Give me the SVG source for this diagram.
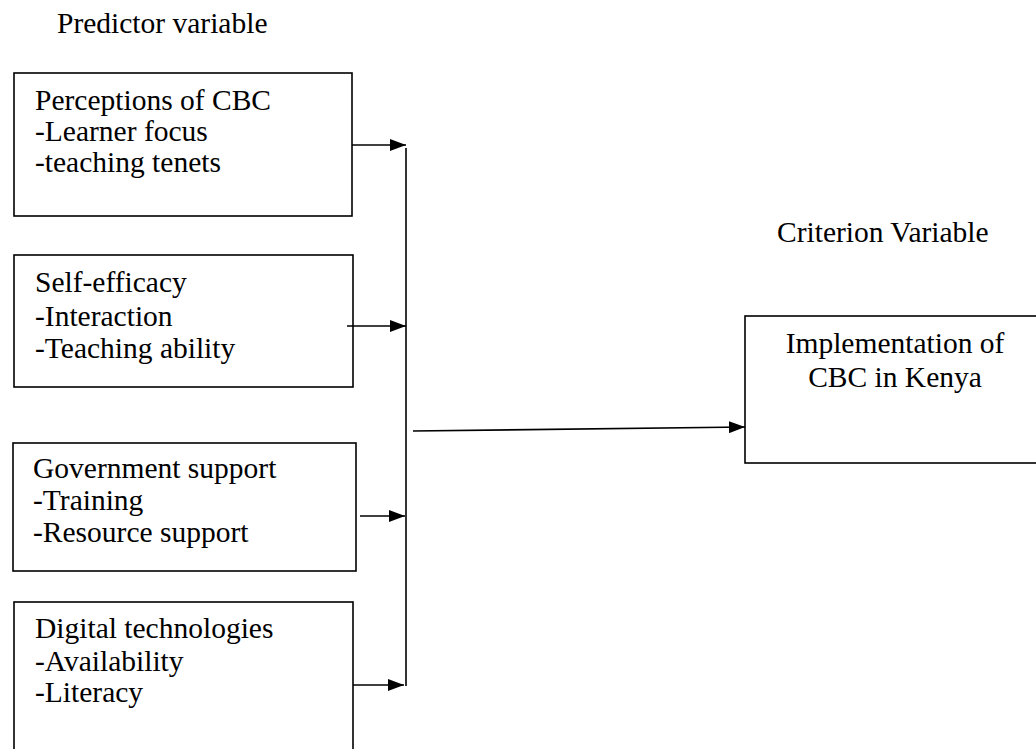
<svg xmlns="http://www.w3.org/2000/svg" width="1036" height="749" viewBox="0 0 1036 749">
<defs>
<style>
.t{font-family:'Liberation Serif','DejaVu Serif','Times New Roman',serif;font-size:29.5px;fill:#000}
.box{fill:#fff;stroke:#000;stroke-width:1.6}
.ln{fill:none;stroke:#000;stroke-width:1.6}
.mid{text-anchor:middle}
</style>
<marker id="ah" markerWidth="16" markerHeight="12" refX="16" refY="6" orient="auto" markerUnits="userSpaceOnUse">
<path d="M0,0 L16,6 L0,12 Z" fill="#000"/>
</marker>
</defs>
<rect width="1036" height="749" fill="#fff"/>
<g font-family="Liberation Serif, DejaVu Serif, serif" font-size="29.5">
<text class="t" id="label-predictor" x="57" y="33">Predictor variable</text>
<text class="t" id="label-criterion" x="777" y="242">Criterion Variable</text>
<g id="node-perceptions">
<rect class="box" x="14" y="73" width="338" height="143"/>
<text class="t" x="35" y="110">Perceptions of CBC</text>
<text class="t" x="35" y="141">-Learner focus</text>
<text class="t" x="35" y="172">-teaching tenets</text>
</g>
<g id="node-selfefficacy">
<rect class="box" x="14" y="255" width="339" height="132"/>
<text class="t" x="35" y="292">Self-efficacy</text>
<text class="t" x="35" y="326">-Interaction</text>
<text class="t" x="35" y="358">-Teaching ability</text>
</g>
<g id="node-government">
<rect class="box" x="13" y="443" width="343" height="128"/>
<text class="t" x="33" y="478">Government support</text>
<text class="t" x="33" y="510">-Training</text>
<text class="t" x="33" y="542">-Resource support</text>
</g>
<g id="node-digital">
<rect class="box" x="14" y="602" width="339" height="160"/>
<text class="t" x="35" y="638">Digital technologies</text>
<text class="t" x="35" y="671">-Availability</text>
<text class="t" x="35" y="702">-Literacy</text>
</g>
<g id="node-implementation">
<rect class="box" x="745" y="316" width="310" height="147"/>
<text class="t mid" x="895" y="353">Implementation of</text>
<text class="t mid" x="895" y="387">CBC in Kenya</text>
</g>
</g>
<g id="connectors">
<line class="ln" x1="406" y1="148" x2="406" y2="686"/>
<line class="ln" x1="352" y1="145" x2="406" y2="145" marker-end="url(#ah)"/>
<line class="ln" x1="347" y1="326" x2="406" y2="326" marker-end="url(#ah)"/>
<line class="ln" x1="360" y1="516" x2="405" y2="516" marker-end="url(#ah)"/>
<line class="ln" x1="353" y1="685" x2="404" y2="685" marker-end="url(#ah)"/>
<line class="ln" x1="413" y1="431" x2="745" y2="427" marker-end="url(#ah)"/>
</g>
</svg>
